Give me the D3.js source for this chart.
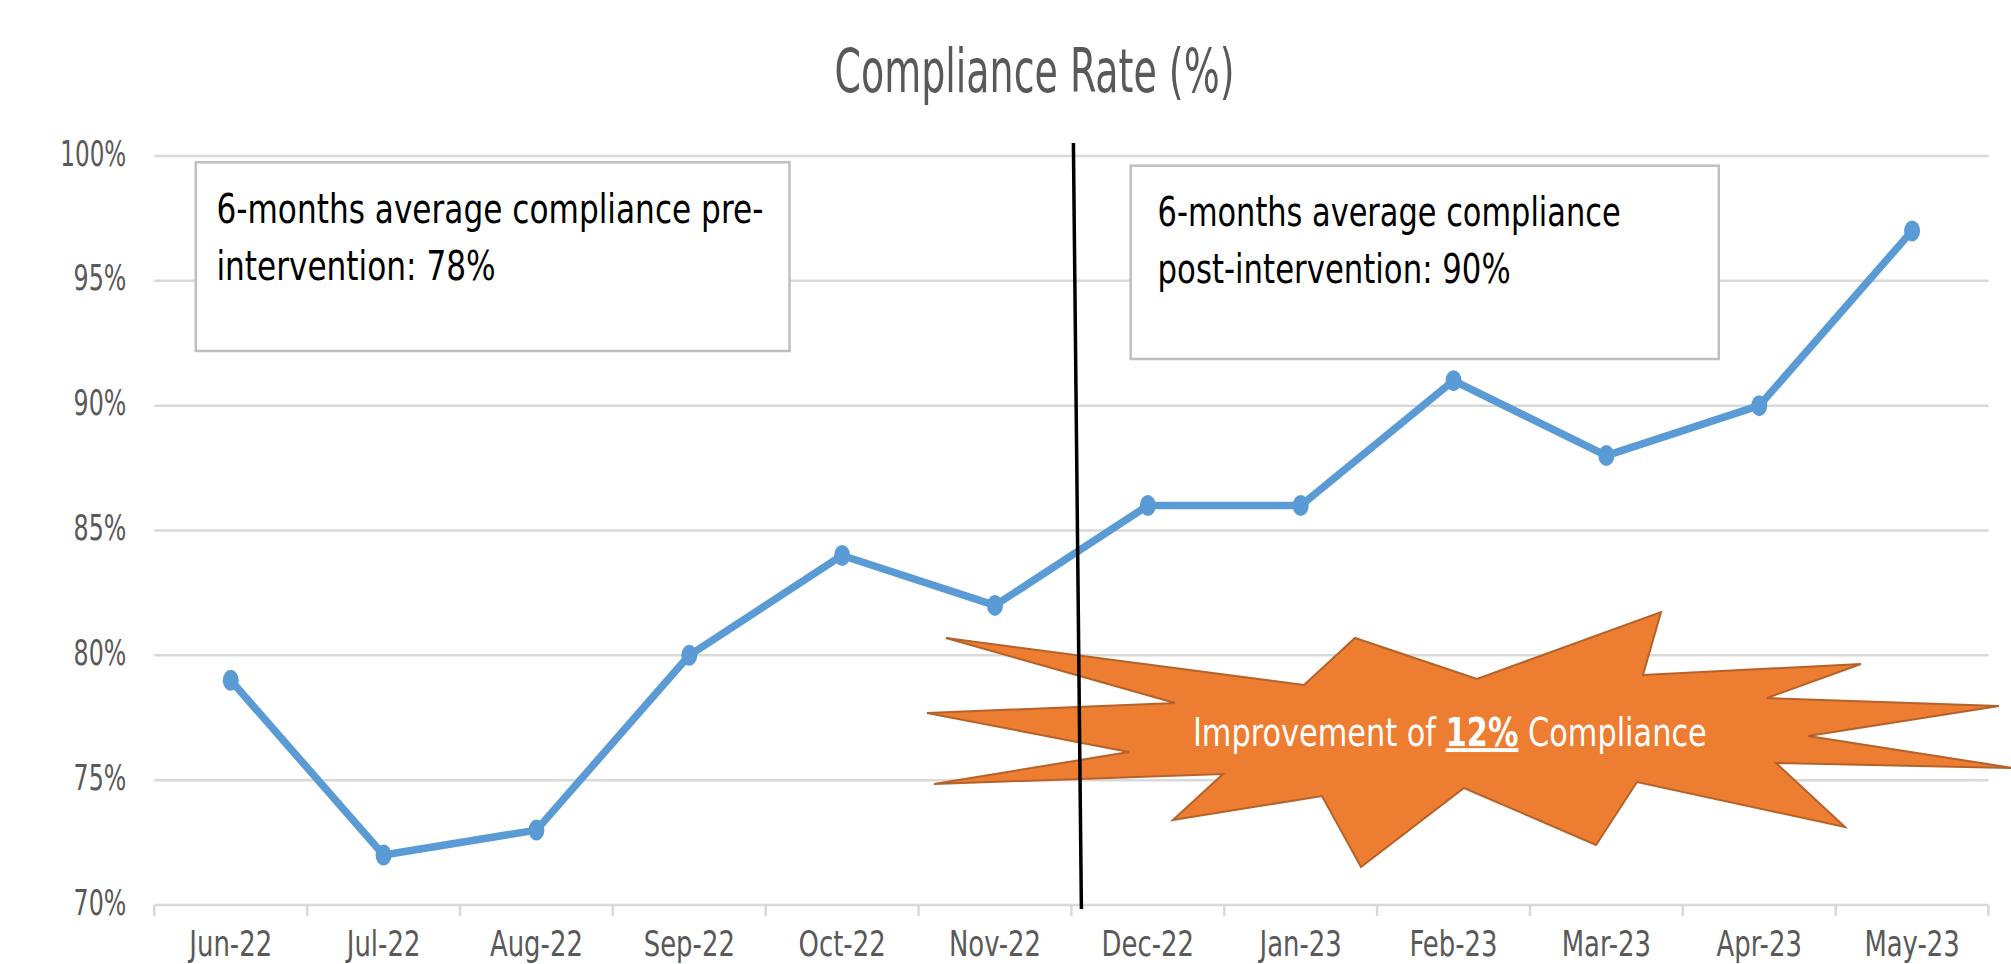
<!DOCTYPE html>
<html>
<head>
<meta charset="utf-8">
<script src="https://cdn.jsdelivr.net/npm/d3@7"></script>
<style>
  html, body { margin: 0; padding: 0; background: #fff; overflow: hidden; }
  svg { display: block; }
  text { font-family: "Liberation Sans Narrow", "DejaVu Sans Condensed", "Liberation Sans", sans-serif; }
</style>
</head>
<body>
<svg id="chart" width="2011" height="964"></svg>
<script>
// ---- data ----
const months = ["Jun-22","Jul-22","Aug-22","Sep-22","Oct-22","Nov-22","Dec-22","Jan-23","Feb-23","Mar-23","Apr-23","May-23"];
const compliance = [0.79, 0.72, 0.73, 0.80, 0.84, 0.82, 0.86, 0.86, 0.91, 0.88, 0.90, 0.97];
const yTicks = [0.70, 0.75, 0.80, 0.85, 0.90, 0.95, 1.00];
const chartTitle = "Compliance Rate (%)";
const preText = ["6-months average compliance pre-", "intervention: 78%"];
const postText = ["6-months average compliance", "post-intervention: 90%"];
const interventionAfter = "Nov-22";
const burstText = ["Improvement of ", "12%", " Compliance"];

// ---- layout ----
const svg = d3.select("#chart");
const x = d3.scaleBand().domain(months).range([154.3, 1988.5]).padding(0);
const y = d3.scaleLinear().domain([0.70, 1.00]).range([905, 156]);

function fitWidth(sel, w) {
  sel.attr("textLength", w).attr("lengthAdjust", "spacingAndGlyphs");
}

// gridlines
svg.append("g").selectAll("line").data(yTicks).join("line")
  .attr("x1", x.range()[0]).attr("x2", x.range()[1])
  .attr("y1", d => y(d)).attr("y2", d => y(d))
  .attr("stroke", "#D9D9D9").attr("stroke-width", 2.5);

// y axis labels
const fmt = d3.format(".0%");
const yAxis = d3.axisLeft(y).tickValues(yTicks).tickFormat(fmt).tickSize(0).tickPadding(28);
const gy = svg.append("g").attr("transform", `translate(${x.range()[0]},0)`).call(yAxis);
gy.select(".domain").remove();
gy.selectAll("text")
  .attr("font-size", 36).attr("fill", "#595959")
  .attr("dy", "9px");
gy.selectAll("text").each(function(d) {
  fitWidth(d3.select(this), fmt(d).length === 4 ? 66 : 52.7);
});

// x axis: category boundary ticks + labels
const bounds = months.map(m => x(m)).concat([x.range()[1]]);
svg.append("g").selectAll("line").data(bounds).join("line")
  .attr("x1", d => d).attr("x2", d => d)
  .attr("y1", y(0.70)).attr("y2", y(0.70) + 11)
  .attr("stroke", "#D9D9D9").attr("stroke-width", 2.5);

const xAxis = d3.axisBottom(x).tickSize(0).tickPadding(0);
const gx = svg.append("g").attr("transform", `translate(0,${y(0.70)})`).call(xAxis);
gx.select(".domain").remove();
gx.selectAll("text")
  .attr("font-size", 36).attr("fill", "#595959")
  .attr("y", 51).attr("dy", null);
gx.selectAll("text").each(function() {
  const nat = this.getComputedTextLength();
  fitWidth(d3.select(this), nat * 0.80);
});

// title
const title = svg.append("text")
  .attr("x", 1034.5).attr("y", 91.5)
  .attr("text-anchor", "middle")
  .attr("font-size", 61).attr("fill", "#595959")
  .text(chartTitle);
fitWidth(title, 400);

// text boxes
function textBox(x0, y0, x1, y1, tx, baselines, lines, widths) {
  const g = svg.append("g");
  g.append("rect").attr("x", x0).attr("y", y0).attr("width", x1 - x0).attr("height", y1 - y0)
    .attr("fill", "#fff").attr("stroke", "#BFBFBF").attr("stroke-width", 2.5);
  lines.forEach((ln, i) => {
    const t = g.append("text").attr("x", tx).attr("y", baselines[i])
      .attr("font-size", 41).attr("fill", "#000").text(ln);
    fitWidth(t, widths[i]);
  });
}
textBox(195.8, 162.3, 789.5, 351, 216.4, [222.7, 280], preText, [547, 279.3]);
textBox(1130.7, 165.7, 1718.8, 359, 1157.6, [225.5, 282.7], postText, [463, 353]);

// series line
const line = d3.line().x((d, i) => x(months[i]) + x.bandwidth() / 2).y(d => y(d));
svg.append("path").datum(compliance)
  .attr("d", line).attr("fill", "none")
  .attr("stroke", "#5B9BD5").attr("stroke-width", 7.5)
  .attr("stroke-linejoin", "round").attr("stroke-linecap", "round");
svg.append("g").selectAll("ellipse").data(compliance).join("ellipse")
  .attr("cx", (d, i) => x(months[i]) + x.bandwidth() / 2)
  .attr("cy", d => y(d))
  .attr("rx", 8).attr("ry", 10.5)
  .attr("fill", "#5B9BD5");

// explosion shape (annotation)
const burst = [
  [946, 638], [1304, 685], [1355, 638], [1477, 679], [1661, 612], [1643, 675],
  [1861, 664], [1767, 698], [1999, 706], [1808, 736], [2013, 768], [1776, 763],
  [1845, 827], [1637, 782], [1596, 845], [1464, 788], [1361, 867], [1322, 796],
  [1173, 820], [1223, 774], [934, 784], [1129, 752], [927, 713], [1175, 703]
];
svg.append("polygon")
  .attr("points", burst.map(p => p.join(",")).join(" "))
  .attr("fill", "#ED7D31").attr("stroke", "#B5622A").attr("stroke-width", 2)
  .attr("stroke-linejoin", "miter");

// intervention line (between Nov-22 and Dec-22)
const xb = x(interventionAfter) + x.bandwidth();
svg.append("line")
  .attr("x1", xb + 2).attr("y1", y(1.00) - 13)
  .attr("x2", xb + 10).attr("y2", y(0.70) + 4)
  .attr("stroke", "#000").attr("stroke-width", 3.5);

// burst text: one text element, horizontally scaled as a group
const bg = svg.append("g");
const bt = bg.append("text").attr("x", 0).attr("y", 0)
  .attr("font-size", 39).attr("fill", "#fff");
bt.append("tspan").text(burstText[0]);
bt.append("tspan").attr("font-weight", "bold").style("text-decoration", "underline").text(burstText[1]);
bt.append("tspan").text(burstText[2]);
const natW = bt.node().getBBox().width;
bg.attr("transform", `translate(1192.9,746) scale(${514 / natW},1)`);
</script>
</body>
</html>
